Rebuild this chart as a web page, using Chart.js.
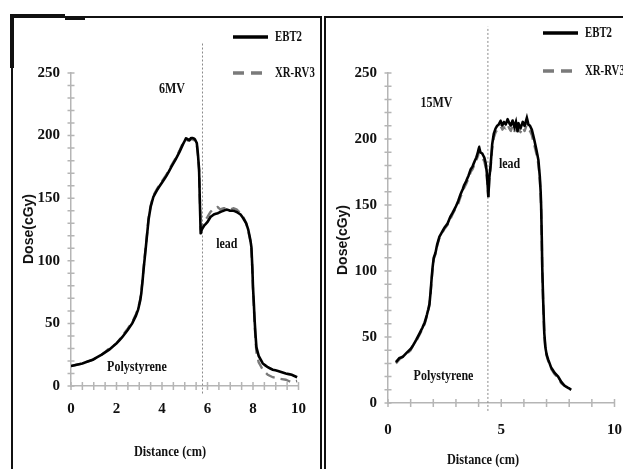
<!DOCTYPE html>
<html>
<head>
<meta charset="utf-8">
<script src="https://cdn.jsdelivr.net/npm/chart.js@4.4.0/dist/chart.umd.min.js"></script>
<style>
  body{margin:0;width:623px;height:469px;overflow:hidden;background:#fff;position:relative;}
  .frame{position:absolute;border:2px solid #111;box-sizing:border-box;}
  .bar{position:absolute;background:#111;}
  canvas{position:absolute;top:0;z-index:2;}
  .ytitle{position:absolute;font:bold 14px "Liberation Sans",Arial,sans-serif;color:#111;transform:translate(-50%,-50%) rotate(-90deg);white-space:nowrap;z-index:3;}
  .xtitle{position:absolute;font:bold 15px "Liberation Serif",serif;color:#111;transform:translate(-50%,-50%) scaleX(0.82);white-space:nowrap;z-index:3;}
</style>
</head>
<body>
<div class="frame" style="left:11px;top:16px;width:311px;height:470px;"></div>
<div class="frame" style="left:324px;top:16px;width:320px;height:470px;"></div>
<div class="bar" style="left:10px;top:14px;width:55px;height:4px;"></div>
<div class="bar" style="left:65px;top:16px;width:20px;height:4px;"></div>
<div class="bar" style="left:10px;top:16px;width:4px;height:52px;"></div>

<canvas id="left" width="320" height="469" style="left:0;"></canvas>
<canvas id="right" width="320" height="469" style="left:320px;"></canvas>

<div class="ytitle" style="left:28px;top:229px;">Dose(cGy)</div>
<div class="ytitle" style="left:342px;top:240px;">Dose(cGy)</div>
<div class="xtitle" style="left:170px;top:451px;">Distance (cm)</div>
<div class="xtitle" style="left:483px;top:459px;">Distance (cm)</div>

<script>
// ---- data ----
var seriesNames = ["EBT2", "XR-RV3"];

// 6MV panel
var mv6_x = [0, 0.5, 0.96, 1.35, 1.68, 2.0, 2.25, 2.5, 2.69, 2.85, 2.95, 3.04, 3.09, 3.14, 3.19, 3.24, 3.29, 3.35, 3.41, 3.5, 3.62, 3.8, 3.98, 4.2, 4.41, 4.6, 4.77, 4.92, 5.06, 5.13, 5.2, 5.27, 5.34, 5.45, 5.53, 5.58, 5.63, 5.66, 5.70, 5.75, 5.85, 6.0, 6.13, 6.28, 6.45, 6.56, 6.7, 6.85, 7.0, 7.15, 7.28, 7.45, 7.57, 7.7, 7.79, 7.88, 7.93, 7.97, 8.0, 8.04, 8.07, 8.11, 8.15, 8.25, 8.43, 8.65, 8.87, 9.1, 9.44, 9.7, 9.94];
var mv6_ebt2 = [16, 18, 21, 25, 29, 34, 39, 45, 50, 56, 61, 68, 74, 83, 93, 102, 111, 122, 133, 143, 151, 157, 162, 168, 175, 181, 187, 193, 198, 197, 196, 198, 198, 197, 194, 185, 173, 150, 122, 125, 128, 131, 135, 137, 138, 139, 140, 141, 140, 140, 139, 137, 134, 130, 125, 117, 111, 95, 79, 65, 53, 41, 31, 24, 18, 15, 13, 12, 10, 9, 7];
var mv6_xrrv3 = [16, 18, 21, 25, 30, 34, 40, 46, 51, 57, 62, 69, 75, 84, 94, 103, 112, 123, 134, 144, 152, 158, 163, 169, 176, 182, 188, 194, 197, 196, 197, 197, 197, 196, 193, 184, 172, 152, 125, 128, 131, 135, 139, 142, 143, 141, 142, 142, 141, 142, 141, 138, 135, 130, 124, 116, 109, 93, 77, 62, 50, 37, 27, 19, 13, 9, 7, 6, 5, 3, 4];
var mv6_ticksX = [0, 2, 4, 6, 8, 10];
var mv6_lead = 5.78;

// 15MV panel
var mv15_x = [0.35, 0.5, 0.65, 0.82, 1.0, 1.12, 1.25, 1.4, 1.52, 1.62, 1.72, 1.78, 1.83, 1.88, 1.92, 1.97, 2.02, 2.1, 2.17, 2.27, 2.4, 2.5, 2.63, 2.75, 2.85, 3.0, 3.1, 3.2, 3.3, 3.36, 3.45, 3.55, 3.65, 3.73, 3.82, 3.9, 3.97, 4.02, 4.08, 4.16, 4.25, 4.31, 4.36, 4.4, 4.43, 4.47, 4.53, 4.6, 4.67, 4.75, 4.82, 4.89, 4.97, 5.05, 5.12, 5.2, 5.28, 5.33, 5.42, 5.5, 5.58, 5.65, 5.72, 5.76, 5.85, 5.95, 6.03, 6.13, 6.2, 6.27, 6.35, 6.45, 6.55, 6.64, 6.7, 6.74, 6.76, 6.79, 6.81, 6.85, 6.9, 6.95, 7.0, 7.07, 7.2, 7.35, 7.51, 7.65, 7.8, 7.9, 8.0, 8.09];
var mv15_ebt2 = [31, 34, 35, 38, 41, 44, 48, 53, 57, 61, 67, 71, 75, 84, 93, 103, 110, 114, 120, 126, 130, 133, 136, 141, 144, 149, 153, 158, 162, 165, 168, 172, 177, 179, 183, 186, 190, 194, 190, 189, 186, 182, 175, 165, 156, 170, 180, 196, 204, 208, 210, 211, 214, 210, 213, 211, 215, 213, 210, 214, 209, 213, 206, 212, 208, 213, 210, 216, 211, 210, 207, 200, 192, 184, 172, 160, 150, 125, 103, 78, 53, 42, 37, 33, 27, 23, 20, 16, 13, 12, 11, 10];
var mv15_xrrv3 = [30, 33, 35, 37, 40, 44, 47, 52, 56, 60, 66, 70, 74, 83, 92, 102, 109, 113, 119, 125, 129, 132, 135, 139, 143, 148, 151, 156, 160, 163, 166, 170, 175, 177, 181, 184, 187, 190, 188, 186, 183, 179, 172, 163, 156, 168, 178, 193, 201, 205, 207, 208, 210, 207, 209, 208, 211, 209, 206, 210, 206, 209, 203, 208, 205, 209, 206, 211, 207, 206, 203, 196, 189, 181, 170, 158, 148, 123, 101, 76, 52, 41, 36, 32, 26, 22, 19, 15, 13, 12, 11, 10];
var mv15_ticksX = [0, 5, 10];
var mv15_lead = 4.41;

var ticksY = [0, 50, 100, 150, 200, 250];

function pts(xs, ys) {
  var out = [];
  for (var i = 0; i < xs.length; i++) out.push({x: xs[i], y: ys[i]});
  return out;
}

var serif = '"Liberation Serif", "Times New Roman", serif';

// minor ticks across the axes, annotations and legend
function decorPlugin(opt) {
  return {
    id: 'decor',
    afterDraw: function(chart) {
      var ctx = chart.ctx, xs = chart.scales.x, ys = chart.scales.y;
      var a = chart.chartArea;
      ctx.save();
      ctx.strokeStyle = '#b5b5b5';
      ctx.lineWidth = 1.5;
      ctx.beginPath();
      for (var v = 0; v <= 250; v += 10) {
        var py = ys.getPixelForValue(v);
        ctx.moveTo(a.left - 3.5, py); ctx.lineTo(a.left + 3.5, py);
      }
      for (var u = 0; u <= 10.001; u += opt.minorX) {
        var px = xs.getPixelForValue(u);
        ctx.moveTo(px, a.bottom - 4); ctx.lineTo(px, a.bottom + 4);
      }
      ctx.stroke();

      // text labels
      ctx.fillStyle = '#111';
      ctx.textAlign = 'center';
      ctx.textBaseline = 'middle';
      ctx.font = 'bold 15px ' + serif;
      opt.labels.forEach(function(l) {
        var lx = xs.getPixelForValue(l.x), ly = ys.getPixelForValue(l.y);
        ctx.save();
        ctx.translate(lx, ly);
        ctx.scale(0.8, 1);
        ctx.fillText(l.text, 0, 0);
        ctx.restore();
      });

      // legend
      var lg = opt.legend;
      chart.data.datasets.slice(0, 2).forEach(function(ds, i) {
        var y = lg.y + i * lg.gap;
        ctx.beginPath();
        ctx.strokeStyle = ds.borderColor;
        ctx.lineWidth = 3.5;
        ctx.setLineDash(i === 1 ? [11, 7] : []);
        ctx.moveTo(lg.x, y); ctx.lineTo(lg.x + 35, y);
        ctx.stroke();
        ctx.setLineDash([]);
        ctx.save();
        ctx.translate(lg.x + 42, y);
        ctx.scale(0.72, 1);
        ctx.textAlign = 'left';
        ctx.fillText(ds.label, 0, 0);
        ctx.restore();
      });
      ctx.restore();
    }
  };
}

function makeChart(id, xs, ebt2, xrrv3, leadX, leadTop, opt) {
  return new Chart(document.getElementById(id), {
    type: 'line',
    data: {
      datasets: [
        {label: seriesNames[0], data: pts(xs, ebt2), borderColor: '#000', borderWidth: 2.6, pointRadius: 0, tension: 0.01},
        {label: seriesNames[1], data: pts(xs, xrrv3), borderColor: '#7a7a7a', borderWidth: 2.4, borderDash: [10, 6], pointRadius: 0, tension: 0.01},
        {label: 'boundary', data: [{x: leadX, y: -6}, {x: leadX, y: leadTop}], borderColor: '#8a8a8a', borderWidth: 1, borderDash: [2, 2], pointRadius: 0, clip: false}
      ]
    },
    options: {
      responsive: false,
      animation: false,
      layout: {padding: {left: 0, top: 73, right: opt.padRight, bottom: 0}},
      plugins: {legend: {display: false}, tooltip: {enabled: false}},
      scales: {
        x: {
          type: 'linear', min: 0, max: 10,
          afterBuildTicks: function(s) { s.ticks = opt.ticksX.map(function(v) { return {value: v}; }); },
          afterFit: function(s) { s.height = opt.xHeight; },
          grid: {display: true, drawOnChartArea: false, drawTicks: false},
          border: {color: '#b5b5b5', width: 1.5},
          ticks: {padding: opt.xPad, color: '#111', font: {family: serif, size: 15, weight: 'bold'}, maxRotation: 0}
        },
        y: {
          min: 0, max: 250,
          afterBuildTicks: function(s) { s.ticks = ticksY.map(function(v) { return {value: v}; }); },
          afterFit: function(s) { s.width = opt.yWidth; },
          grid: {display: true, drawOnChartArea: false, drawTicks: false},
          border: {color: '#b5b5b5', width: 1.5},
          ticks: {padding: 11, color: '#111', font: {family: serif, size: 15, weight: 'bold'}}
        }
      }
    },
    plugins: [decorPlugin(opt)]
  });
}

makeChart('left', mv6_x, mv6_ebt2, mv6_xrrv3, mv6_lead, 275, {
  padRight: 17, xHeight: 83, yWidth: 71, xPad: 14, ticksX: mv6_ticksX, minorX: 0.5,
  legend: {x: 233, y: 37, gap: 36},
  labels: [
    {text: '6MV', x: 4.44, y: 237},
    {text: 'lead', x: 6.85, y: 113},
    {text: 'Polystyrene', x: 2.9, y: 15}
  ]
});

makeChart('right', mv15_x, mv15_ebt2, mv15_xrrv3, mv15_lead, 285, {
  padRight: 23, xHeight: 66, yWidth: 68, xPad: 18, ticksX: mv15_ticksX, minorX: 1,
  legend: {x: 223, y: 33, gap: 38},
  labels: [
    {text: '15MV', x: 2.14, y: 227},
    {text: 'lead', x: 5.37, y: 181},
    {text: 'Polystyrene', x: 2.45, y: 20}
  ]
});
</script>
</body>
</html>
